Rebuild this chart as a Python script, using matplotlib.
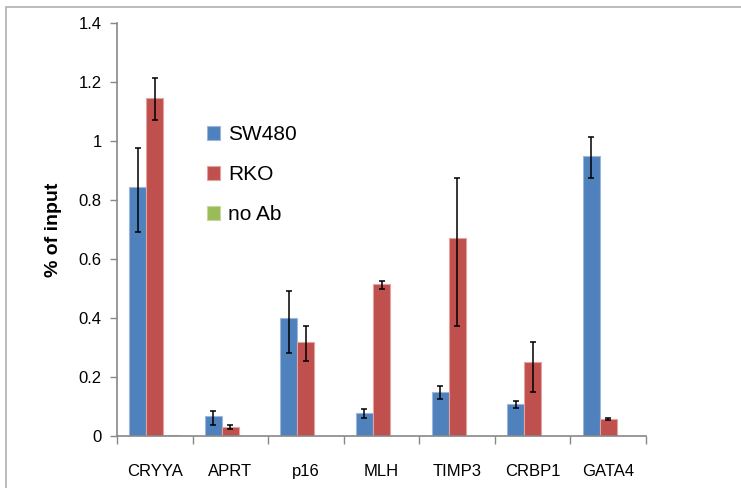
import matplotlib
matplotlib.use("Agg")
import matplotlib.pyplot as plt
import numpy as np
from matplotlib.patches import Rectangle

categories = ["CRYYA", "APRT", "p16", "MLH", "TIMP3", "CRBP1", "GATA4"]
sw480 = [0.845, 0.067, 0.40, 0.078, 0.15, 0.108, 0.95]
sw480_err_low = [0.155, 0.031, 0.119, 0.018, 0.025, 0.012, 0.075]
sw480_err_high = [0.131, 0.017, 0.093, 0.012, 0.02, 0.012, 0.063]
rko = [1.145, 0.03, 0.319, 0.514, 0.672, 0.25, 0.058]
rko_err_low = [0.075, 0.007, 0.066, 0.017, 0.299, 0.10, 0.004]
rko_err_high = [0.068, 0.006, 0.055, 0.010, 0.203, 0.07, 0.004]
noab = [0.004, 0.001, 0.001, 0.001, 0.001, 0.001, 0.001]
yticks = [0, 0.2, 0.4, 0.6, 0.8, 1.0, 1.2, 1.4]
ytick_labels = ["0", "0.2", "0.4", "0.6", "0.8", "1", "1.2", "1.4"]

plt.rcParams['font.family'] = ['Liberation Sans', 'DejaVu Sans']

fig = plt.figure(figsize=(7.41, 4.88), dpi=100)
fig.patches.append(Rectangle((6/741, -0.1), 2, (1 - 7/488) + 0.1, transform=fig.transFigure,
                             fill=False, edgecolor="#b0b0b0", lw=1.2))
ax = fig.add_axes([117/741, 1 - 436/488, (646-117)/741, (436-23)/488])

x = np.arange(len(categories))
w = 0.225
ekw = dict(ecolor="black", elinewidth=1.1, capsize=2.5, capthick=1.1)
ax.bar(x - w, sw480, w, color="#4F81BD", edgecolor="#9db7dc", linewidth=0.8,
       yerr=[sw480_err_low, sw480_err_high], error_kw=ekw, label="SW480")
ax.bar(x, rko, w, color="#C0504D", edgecolor="#e3a3a1", linewidth=0.8,
       yerr=[rko_err_low, rko_err_high], error_kw=ekw, label="RKO")
ax.bar(x + w, noab, w, color="#9BBB59", edgecolor="#c5d9a0", linewidth=0.8, label="no Ab")

ax.set_xlim(-0.5, len(categories) - 0.5)
ax.set_ylim(0, 1.4)
ax.set_yticks(yticks)
ax.set_yticklabels(ytick_labels, fontsize=12)
ax.set_xticks(x)
ax.set_xticklabels(categories, fontsize=12)
ax.set_xticks(np.arange(len(categories) + 1) - 0.5, minor=True)
ax.tick_params(axis='x', which='major', length=0, pad=20)
ax.tick_params(axis='x', which='minor', length=6, color="#888888", width=1)
ax.tick_params(axis='y', length=5, color="#888888", width=1, pad=6)
for s in ["top", "right"]:
    ax.spines[s].set_visible(False)
for s in ["left", "bottom"]:
    ax.spines[s].set_color("#888888")
    ax.spines[s].set_linewidth(1.2)

ax.set_ylabel("% of input", fontsize=14, fontweight="bold", labelpad=12)

leg = ax.legend(loc="upper left", bbox_to_anchor=(0.155, 0.772), frameon=False,
                fontsize=15, handlelength=0.62, handleheight=0.62, labelspacing=1.0,
                handletextpad=0.38, borderaxespad=0)

fig.savefig("out.png", dpi=100)
